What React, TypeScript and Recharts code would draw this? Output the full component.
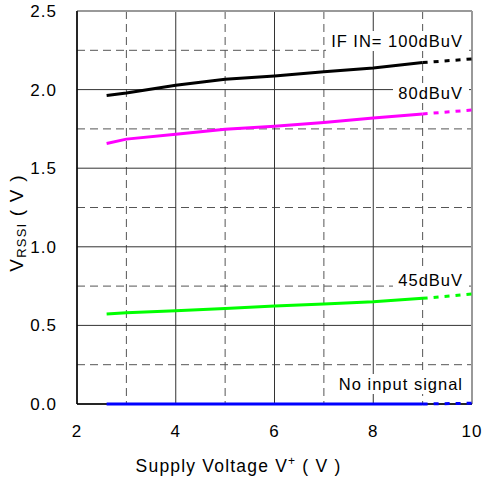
import { CartesianGrid, Line, LineChart, XAxis, YAxis } from "recharts";

// supply voltage V+ (V)
const voltage = [2.6, 3, 4, 5, 6, 7, 8, 9];
// RSSI output (V), measured range
const in100 = [1.963, 1.979, 2.028, 2.066, 2.087, 2.113, 2.138, 2.172];
const in80 = [1.657, 1.685, 1.716, 1.748, 1.767, 1.791, 1.82, 1.845];
const in45 = [0.572, 0.58, 0.593, 0.608, 0.623, 0.636, 0.65, 0.672];
const noSig = [0.0, 0.0, 0.0, 0.0, 0.0, 0.0, 0.0, 0.0];

// extrapolated (dotted) part, 9 V .. 10 V
const extVoltage = [9, 10];
const ext100 = [2.172, 2.195];
const ext80 = [1.845, 1.87];
const ext45 = [0.672, 0.7];
const extNoSig = [0.0, 0.005];

const xMajor = [2, 4, 6, 8, 10];
const xMinor = [3, 5, 7, 9];
const yMajor = [0, 0.5, 1.0, 1.5, 2.0, 2.5];
const yMinor = [0.25, 0.75, 1.25, 1.75, 2.25];

const data = [
  ...voltage.map((v, i) => ({
    v,
    s100: in100[i],
    s80: in80[i],
    s45: in45[i],
    s0: noSig[i],
  })),
  ...extVoltage.slice(1).map((v, j) => ({
    v,
    d100: ext100[j + 1],
    d80: ext80[j + 1],
    d45: ext45[j + 1],
    d0: extNoSig[j + 1],
  })),
];
// the last measured point also starts the dotted part
Object.assign(data[voltage.length - 1], {
  d100: ext100[0],
  d80: ext80[0],
  d45: ext45[0],
  d0: extNoSig[0],
});

const FONT = "'Liberation Sans', Arial, sans-serif";
const tickStyle = { fontSize: 17, fill: "#000", fontFamily: FONT, letterSpacing: 1 };

const series = [
  { key: "100", color: "#000000" },
  { key: "80", color: "#ff00ff" },
  { key: "45", color: "#00ff00" },
  { key: "0", color: "#0000ff" },
];

const tags = [
  { text: "IF IN= 100dBuV", top: 31 },
  { text: "80dBuV", top: 83 },
  { text: "45dBuV", top: 270 },
  { text: "No input signal", top: 374 },
];

export default function App() {
  return (
    <div
      style={{
        position: "absolute",
        left: 0,
        top: 0,
        width: 483,
        height: 485,
        background: "#fff",
        fontFamily: FONT,
      }}
    >
      <LineChart
        width={483}
        height={485}
        data={data}
        margin={{ top: 11, right: 11, bottom: 41, left: 17 }}
      >
        <CartesianGrid
          horizontalValues={yMinor}
          verticalValues={xMinor}
          stroke="#555"
          strokeDasharray="8 5"
        />
        <CartesianGrid horizontalValues={yMajor} verticalValues={xMajor} stroke="#333" />
        <CartesianGrid horizontalValues={[2.5]} verticalValues={[10]} stroke="#999" strokeWidth={2} />
        {/* axis lines drawn as grid so the series sit on top of them */}
        <CartesianGrid horizontalValues={[0]} verticalValues={[2]} stroke="#000" strokeWidth={1.5} />
        <XAxis
          dataKey="v"
          type="number"
          domain={[2, 10]}
          ticks={xMajor}
          height={40}
          tickLine={false}
          tickMargin={15}
          axisLine={false}
          tick={tickStyle}
        />
        <YAxis
          type="number"
          domain={[0, 2.5]}
          ticks={yMajor}
          width={60}
          tickLine={false}
          tickMargin={14}
          tickFormatter={(t) => Number(t).toFixed(1)}
          axisLine={false}
          tick={tickStyle}
        />
        {series.map((s) => (
          <Line
            key={"s" + s.key}
            dataKey={"s" + s.key}
            stroke={s.color}
            strokeWidth={3}
            dot={false}
            connectNulls={false}
            isAnimationActive={false}
          />
        ))}
        {series.map((s) => (
          <Line
            key={"d" + s.key}
            dataKey={"d" + s.key}
            stroke={s.color}
            strokeWidth={3}
            strokeDasharray="5 6"
            dot={false}
            connectNulls={false}
            isAnimationActive={false}
          />
        ))}
      </LineChart>

      {tags.map((t) => (
        <div
          key={t.text}
          style={{
            position: "absolute",
            right: 14,
            top: t.top,
            padding: "1px 6px 1px 5px",
            background: "#fff",
            fontSize: 16.5,
            lineHeight: "18px",
            letterSpacing: 1,
            whiteSpace: "nowrap",
            color: "#000",
          }}
        >
          {t.text}
        </div>
      ))}

      <div
        style={{
          position: "absolute",
          left: 0,
          width: 483,
          top: 456,
          textAlign: "center",
          fontSize: 17.5,
          letterSpacing: 1.2,
          transform: "translateX(-3px)",
          color: "#000",
        }}
      >
        Supply Voltage V<sup style={{ fontSize: 12, verticalAlign: "7px", lineHeight: 0 }}>+</sup> ( V )
      </div>

      <div
        style={{
          position: "absolute",
          left: 17,
          top: 223,
          transform: "translate(-50%, -50%) rotate(-90deg)",
          fontSize: 19,
          letterSpacing: 1.2,
          whiteSpace: "nowrap",
          color: "#000",
        }}
      >
        V<sub style={{ fontSize: 13, verticalAlign: "-3px", lineHeight: 0 }}>RSSI</sub> ( V )
      </div>
    </div>
  );
}
